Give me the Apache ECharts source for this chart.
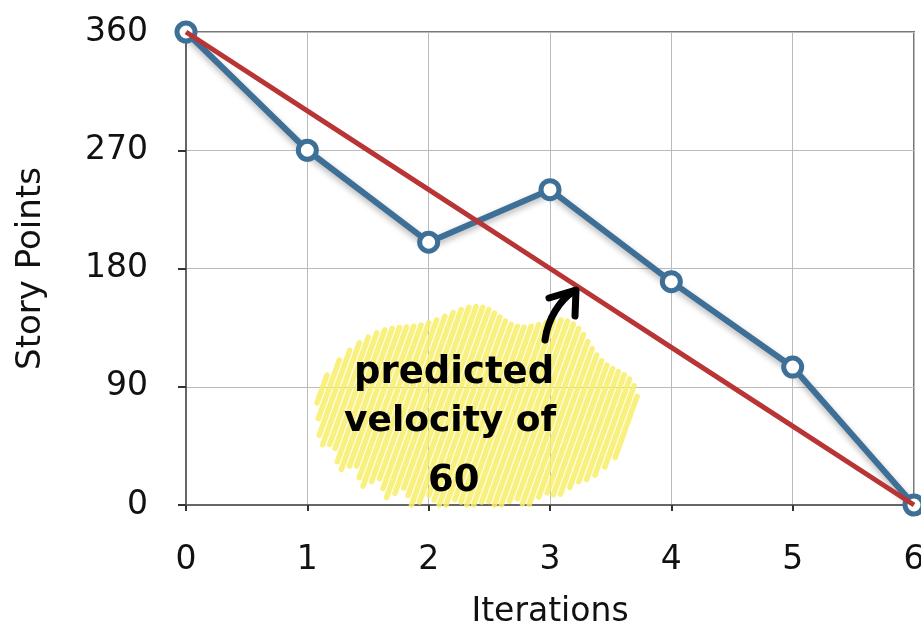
<!DOCTYPE html>
<html><head><meta charset="utf-8">
<script src="https://cdn.jsdelivr.net/npm/echarts@6/dist/echarts.min.js"></script>
<style>html,body{margin:0;padding:0;background:#fff}#c{width:921px;height:630px}</style>
</head><body><div id="c"></div>
<script>
const iterations = [0, 1, 2, 3, 4, 5, 6];
const actualPoints = [360, 270, 200, 240, 170, 105, 0];
const predictedPoints = [360, 300, 240, 180, 120, 60, 0];
const yTicks = [0, 90, 180, 270, 360];

const chart = echarts.init(document.getElementById('c'));

// yellow highlighter scribble (decoration)
const scribble = [];
(function(){
  const cx = 476, cy = 410, rx = 160, ry = 96;
  const dx = 0.36, dy = -1; const L = Math.hypot(dx, dy);
  const ux = dx / L, uy = dy / L; const px = -uy, py = ux;
  for (let k = -152; k <= 152; k += 6.5) {
    const ox = cx + px * k, oy = cy + py * k;
    const a = (ux*ux)/(rx*rx) + (uy*uy)/(ry*ry);
    const b = 2*((ox-cx)*ux/(rx*rx) + (oy-cy)*uy/(ry*ry));
    const c = (ox-cx)*(ox-cx)/(rx*rx) + (oy-cy)*(oy-cy)/(ry*ry) - 1;
    const d = b*b - 4*a*c; if (d <= 0) continue;
    const s = Math.sqrt(d);
    let t1 = (-b - s) / (2*a) * (1 + 0.07*Math.sin(k*1.7));
    const t2 = (-b + s) / (2*a) * (1 + 0.09*Math.cos(k*0.9));
    let x1 = ox + ux*t1, y1 = oy + uy*t1;
    if (y1 > 505) { const r = (505 - (oy + uy*t2)) / (y1 - (oy + uy*t2)); x1 = ox + ux*t2 + (x1 - ox - ux*t2) * r; y1 = 505; }
    scribble.push({
      type: 'line', silent: true, z: 1,
      shape: { x1: x1, y1: y1, x2: ox + ux*t2, y2: oy + uy*t2 },
      style: { stroke: 'rgba(248,238,105,0.85)', lineWidth: 5.5, lineCap: 'round' }
    });
  }
})();

const FONT = '"DejaVu Sans"';
const option = {
  animation: false,
  grid: { left: 186, right: 7, top: 32, bottom: 125, show: true, borderColor: '#777', borderWidth: 2,
          containLabel: false, outerBoundsMode: 'none' },
  xAxis: {
    type: 'value', min: 0, max: 6, interval: 1,
    name: 'Iterations', nameLocation: 'middle', nameGap: 91,
    nameTextStyle: { fontFamily: FONT, fontSize: 33, color: '#111' },
    axisLine: { show: true, lineStyle: { color: '#666', width: 2 } },
    axisTick: { show: true, length: 6, lineStyle: { color: '#333', width: 2 } },
    axisLabel: { margin: 39, fontFamily: FONT, fontSize: 33, color: '#111' },
    splitLine: { show: true, lineStyle: { color: '#bbb', width: 1 } }
  },
  yAxis: {
    type: 'value', min: 0, max: 360, interval: 90,
    name: 'Story Points', nameLocation: 'middle', nameGap: 138,
    nameTextStyle: { fontFamily: FONT, fontSize: 34, color: '#111' },
    axisLine: { show: true, lineStyle: { color: '#666', width: 2 } },
    axisTick: { show: true, length: 8, lineStyle: { color: '#333', width: 2 } },
    axisLabel: { margin: 38, fontFamily: FONT, fontSize: 33, color: '#111',
      formatter: v => yTicks.includes(v) ? String(v) : '' },
    splitLine: { show: true, lineStyle: { color: '#bbb', width: 1 } }
  },
  series: [
    {
      type: 'line', z: 3,
      data: iterations.map((x, i) => [x, actualPoints[i]]),
      lineStyle: { color: '#3e6f97', width: 6, shadowBlur: 6, shadowColor: 'rgba(0,0,0,0.3)', shadowOffsetY: 3 },
      symbol: 'circle', symbolSize: 18,
      itemStyle: { color: '#fff', borderColor: '#3e6f97', borderWidth: 5 }
    },
    {
      type: 'line', z: 4,
      data: iterations.map((x, i) => [x, predictedPoints[i]]),
      lineStyle: { color: '#b93535', width: 5 },
      symbol: 'none'
    }
  ],
  graphic: scribble.concat([
    {
      type: 'bezierCurve', z: 50, silent: true,
      shape: { x1: 545, y1: 340, cpx1: 548, cpy1: 318, cpx2: 560, cpy2: 300, x2: 574, y2: 291 },
      style: { stroke: '#000', lineWidth: 7, lineCap: 'round', fill: null }
    },
    {
      type: 'polyline', z: 50, silent: true,
      shape: { points: [[549, 298], [576, 290], [575, 316]] },
      style: { stroke: '#000', lineWidth: 7, lineCap: 'round', lineJoin: 'round', fill: null }
    },
    {
      type: 'text', z: 50, silent: true, left: 354, top: 355,
      style: { text: 'predicted', font: 'bold 37px "DejaVu Sans"', fill: '#000' }
    },
    {
      type: 'text', z: 50, silent: true, left: 344, top: 404,
      style: { text: 'velocity of', font: 'bold 36px "DejaVu Sans"', fill: '#000' }
    },
    {
      type: 'text', z: 50, silent: true, left: 428, top: 463,
      style: { text: '60', font: 'bold 37px "DejaVu Sans"', fill: '#000' }
    }
  ])
};
chart.setOption(option);
</script></body></html>
